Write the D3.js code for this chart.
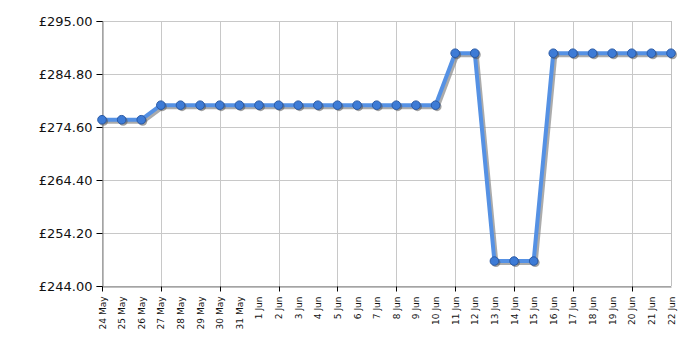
<!DOCTYPE html>
<html>
<head>
<meta charset="utf-8">
<script src="https://cdn.jsdelivr.net/npm/d3@7"></script>
<style>
  html, body { margin: 0; padding: 0; background: #fff; }
  svg { display: block; }
</style>
</head>
<body>
<svg id="chart" width="700" height="350"></svg>
<script>
const dates = ["24 May","25 May","26 May","27 May","28 May","29 May","30 May","31 May",
  "1 Jun","2 Jun","3 Jun","4 Jun","5 Jun","6 Jun","7 Jun","8 Jun","9 Jun","10 Jun",
  "11 Jun","12 Jun","13 Jun","14 Jun","15 Jun","16 Jun","17 Jun","18 Jun","19 Jun",
  "20 Jun","21 Jun","22 Jun"];
const prices = [276.0,276.0,276.0,278.8,278.8,278.8,278.8,278.8,
  278.8,278.8,278.8,278.8,278.8,278.8,278.8,278.8,278.8,278.8,
  288.8,288.8,248.8,248.8,248.8,288.8,288.8,288.8,288.8,
  288.8,288.8,288.8];
const yTicks = [244.0, 254.2, 264.4, 274.6, 284.8, 295.0];
const gridDates = ["24 May","27 May","30 May","2 Jun","5 Jun","8 Jun","11 Jun","14 Jun","17 Jun","20 Jun"];

(function () {
const svg = d3.select("#chart");
const pLeft = 102, pRight = 671, pTop = 21, pBottom = 286;

const x = d3.scalePoint().domain(dates).range([pLeft, pRight]);
const y = d3.scaleLinear().domain([244, 295]).range([pBottom, pTop]);

const data = dates.map((d, i) => ({ d, v: prices[i] }));

// gridlines
const grid = svg.append("g");
grid.selectAll("line.h").data(yTicks).join("line")
  .attr("x1", pLeft).attr("x2", pRight)
  .attr("y1", d => Math.round(y(d)) + 0.5).attr("y2", d => Math.round(y(d)) + 0.5)
  .attr("stroke", "#c8c8c8").attr("stroke-width", 1);
grid.selectAll("line.v").data(gridDates).join("line")
  .attr("x1", d => Math.round(x(d)) + 0.5).attr("x2", d => Math.round(x(d)) + 0.5)
  .attr("y1", pTop).attr("y2", pBottom)
  .attr("stroke", "#c8c8c8").attr("stroke-width", 1);
grid.append("line")
  .attr("x1", pRight + 0.5).attr("x2", pRight + 0.5)
  .attr("y1", pTop).attr("y2", pBottom)
  .attr("stroke", "#c0c0c0");

// y axis
const yAxis = svg.append("g")
  .attr("transform", `translate(${pLeft + 0.5},0)`)
  .call(d3.axisLeft(y).tickValues(yTicks).tickSize(6).tickPadding(4)
    .tickFormat(d => "£" + d.toFixed(2)));
yAxis.select(".domain").attr("stroke", "#808080");
yAxis.selectAll(".tick line").attr("stroke", "#000");
yAxis.selectAll("text").attr("font-family", "DejaVu Sans, Verdana, sans-serif")
  .attr("font-size", 13).attr("fill", "#111");

// x axis
const xAxis = svg.append("g")
  .attr("transform", `translate(0,${pBottom + 0.5})`)
  .call(d3.axisBottom(x).tickSize(0).tickPadding(0));
xAxis.select(".domain").attr("stroke", "#808080");
xAxis.selectAll(".tick text")
  .attr("font-family", "DejaVu Sans, Verdana, sans-serif")
  .attr("font-size", 9).attr("fill", "#111")
  .attr("text-anchor", "end")
  .attr("dy", null).attr("y", null)
  .attr("transform", "translate(3,10) rotate(-90)");
xAxis.selectAll("line.major").data(gridDates).join("line")
  .attr("class", "major")
  .attr("x1", d => Math.round(x(d)) + 0.5).attr("x2", d => Math.round(x(d)) + 0.5)
  .attr("y1", 0).attr("y2", 5).attr("stroke", "#000");

// line shadow + line
const line = d3.line().x(d => x(d.d)).y(d => y(d.v));
svg.append("path").datum(data)
  .attr("d", line)
  .attr("transform", "translate(2,2)")
  .attr("fill", "none").attr("stroke", "#888").attr("stroke-opacity", 0.7)
  .attr("stroke-width", 4).attr("stroke-linejoin", "round");
svg.append("path").datum(data)
  .attr("d", line)
  .attr("fill", "none").attr("stroke", "#5591e4")
  .attr("stroke-width", 4).attr("stroke-linejoin", "round");

// markers
svg.append("g").selectAll("circle").data(data).join("circle")
  .attr("cx", d => x(d.d) + 1.5).attr("cy", d => y(d.v) + 1.5)
  .attr("r", 4.5).attr("fill", "#555").attr("fill-opacity", 0.55);
svg.append("g").selectAll("circle").data(data).join("circle")
  .attr("cx", d => x(d.d)).attr("cy", d => y(d.v))
  .attr("r", 4.3).attr("fill", "#3d7bd6").attr("stroke", "#2a5aa6").attr("stroke-width", 1);
})();
</script>
</body>
</html>
